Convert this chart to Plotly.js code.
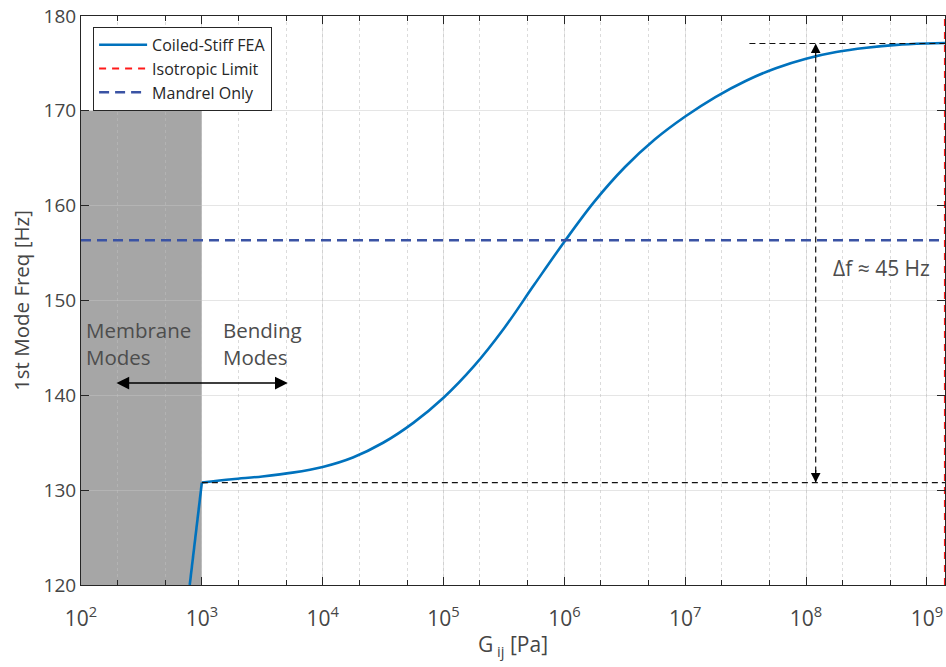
<!DOCTYPE html>
<html>
<head>
<meta charset="utf-8">
<script src="https://cdn.plot.ly/plotly-3.0.1.min.js"></script>
<style>html,body{margin:0;padding:0;background:#fff;}#chart{width:946px;height:667px;}</style>
</head>
<body>
<div id="chart"></div>
<script>
// ---- data ----
const G_Pa = [794, 1000, 1778, 3162, 5623, 10000, 17780, 31620, 56230,
  100000, 177800, 316200, 562300, 1000000, 1778000, 3162000, 5623000,
  10000000, 17780000, 31620000, 56230000, 100000000, 177800000, 316200000,
  562300000, 1000000000, 1413000000];
const freqHz = [120.0, 130.8, 131.15, 131.45, 131.85, 132.45, 133.45, 135.0, 137.1,
  139.75, 143.05, 147.05, 151.65, 156.2, 160.45, 164.05, 167.0,
  169.4, 171.45, 173.15, 174.5, 175.5, 176.2, 176.65,
  176.95, 177.1, 177.15];

const mandrelX = [100, 1413000000];
const mandrelY = [156.35, 156.35];

const isoX = [1413000000, 1413000000];
const isoY = [120, 180];

const baseX = [1000, 1413000000];
const baseY = [130.8, 130.8];
const topX = [34000000, 1413000000];
const topY = [177.1, 177.1];
const deltaX = [120200000, 120200000];
const deltaY = [130.8, 177.1];

const membraneRegionX = [100, 1000];
const membraneRegionY = [120, 170];

const modeArrowX = [191, 5140];
const modeArrowY = 141.3;

const tickVals = [100, 1000, 10000, 100000, 1000000, 10000000, 100000000, 1000000000];
const tickText = ['10<sup>2</sup>', '10<sup>3</sup>', '10<sup>4</sup>', '10<sup>5</sup>',
  '10<sup>6</sup>', '10<sup>7</sup>', '10<sup>8</sup>', '10<sup>9</sup>'];
const yTicks = [120, 130, 140, 150, 160, 170, 180];

const FONT = '"Open Sans", "Noto Sans", sans-serif';
const TXT = '#454545';
const BLUE = '#0072BD';

const traces = [
  {x: G_Pa.slice(1), y: freqHz.slice(1), type: 'scatter', mode: 'lines', name: 'Coiled-Stiff FEA',
   line: {color: BLUE, width: 2.6, shape: 'spline', smoothing: 1}},
  {x: isoX, y: isoY, type: 'scatter', mode: 'lines', name: 'Isotropic Limit',
   line: {color: '#FF1A1A', width: 2.2, dash: '7px,6px'}},
  {x: mandrelX, y: mandrelY, type: 'scatter', mode: 'lines', name: 'Mandrel Only',
   line: {color: '#3A53A4', width: 2.4, dash: '10px,6px'}},
  {x: G_Pa.slice(0, 2), y: freqHz.slice(0, 2), type: 'scatter', mode: 'lines', showlegend: false,
   hoverinfo: 'skip', line: {color: BLUE, width: 2.6}},
  {x: baseX, y: baseY, type: 'scatter', mode: 'lines', showlegend: false, hoverinfo: 'skip',
   line: {color: '#111', width: 1.2, dash: '6px,4px'}},
  {x: topX, y: topY, type: 'scatter', mode: 'lines', showlegend: false, hoverinfo: 'skip',
   line: {color: '#111', width: 1.2, dash: '6px,4px'}},
  {x: deltaX, y: deltaY, type: 'scatter', mode: 'lines', showlegend: false, hoverinfo: 'skip',
   line: {color: '#111', width: 1.2, dash: '6px,4px'}}
];

const L = Math.log10;
const layout = {
  width: 946, height: 667,
  margin: {l: 81, r: 1, t: 16, b: 82},
  paper_bgcolor: '#fff', plot_bgcolor: '#fff',
  font: {family: FONT, color: TXT, size: 18},
  showlegend: true,
  legend: {x: 0.014, y: 0.981, xanchor: 'left', yanchor: 'top',
    bgcolor: '#fff', bordercolor: '#262626', borderwidth: 1, itemwidth: 48,
    font: {family: FONT, size: 16, color: '#262626'}, tracegroupgap: 0},
  xaxis: {
    type: 'log', range: [2, 9.15],
    tickvals: tickVals, ticktext: tickText,
    tickfont: {family: FONT, size: 21, color: TXT}, ticklabelstandoff: 15,
    ticks: 'inside', ticklen: 8, tickcolor: '#262626',
    showline: true, linecolor: '#262626', linewidth: 1, mirror: 'allticks',
    showgrid: true, gridcolor: 'rgba(198,198,198,0.45)', gridwidth: 1,
    zeroline: false,
    minor: {ticks: 'inside', ticklen: 5, tickcolor: '#262626', showgrid: true,
      gridcolor: 'rgba(190,190,190,0.55)', griddash: 'dot', gridwidth: 1},
    title: {text: 'G<sub> ij</sub> [Pa]', font: {family: FONT, size: 21, color: TXT}, standoff: 6}
  },
  yaxis: {
    range: [120, 180], tickvals: yTicks,
    tickfont: {family: FONT, size: 19, color: TXT},
    ticks: 'inside', ticklen: 8, tickcolor: '#262626',
    showline: true, linecolor: '#262626', linewidth: 1, mirror: 'allticks',
    showgrid: true, gridcolor: 'rgba(198,198,198,0.45)', gridwidth: 1,
    zeroline: false,
    title: {text: '1st Mode Freq [Hz]', font: {family: FONT, size: 20.5, color: TXT}, standoff: 8}
  },
  shapes: [
    {type: 'rect', xref: 'x', yref: 'y', layer: 'below',
     x0: membraneRegionX[0], x1: membraneRegionX[1], y0: membraneRegionY[0], y1: membraneRegionY[1],
     fillcolor: '#A6A6A6', line: {width: 0}}
  ],
  annotations: [
    {x: L(modeArrowX[1]), y: modeArrowY, ax: L(modeArrowX[0]), ay: modeArrowY,
     xref: 'x', yref: 'y', axref: 'x', ayref: 'y', text: '', showarrow: true,
     arrowhead: 2, startarrowhead: 2, arrowside: 'end+start', arrowsize: 1.5, startarrowsize: 1.5,
     arrowwidth: 1.7, arrowcolor: '#000'},
    {x: L(deltaX[1]), y: deltaY[1], ax: 0, ay: 14, xref: 'x', yref: 'y', text: '',
     showarrow: true, arrowhead: 2, arrowsize: 1.6, arrowwidth: 1.2, arrowcolor: '#000'},
    {x: L(deltaX[0]), y: deltaY[0], ax: 0, ay: -14, xref: 'x', yref: 'y', text: '',
     showarrow: true, arrowhead: 2, arrowsize: 1.6, arrowwidth: 1.2, arrowcolor: '#000'},
    {x: L(105), y: 145.5, xref: 'x', yref: 'y', xanchor: 'left', yanchor: 'middle', align: 'left',
     text: 'Membrane<br>Modes', showarrow: false, font: {family: FONT, size: 20.5, color: '#4d4d4d'}},
    {x: L(1440), y: 145.5, xref: 'x', yref: 'y', xanchor: 'left', yanchor: 'middle', align: 'left',
     text: 'Bending<br>Modes', showarrow: false, font: {family: FONT, size: 20.5, color: '#4d4d4d'}},
    {x: L(160000000), y: 153.4, xref: 'x', yref: 'y', xanchor: 'left', yanchor: 'middle',
     text: 'Δf ≈ 45 Hz', showarrow: false, font: {family: FONT, size: 21, color: '#4d4d4d'}}
  ]
};

Plotly.newPlot('chart', traces, layout, {displayModeBar: false, staticPlot: true});
</script>
</body>
</html>
